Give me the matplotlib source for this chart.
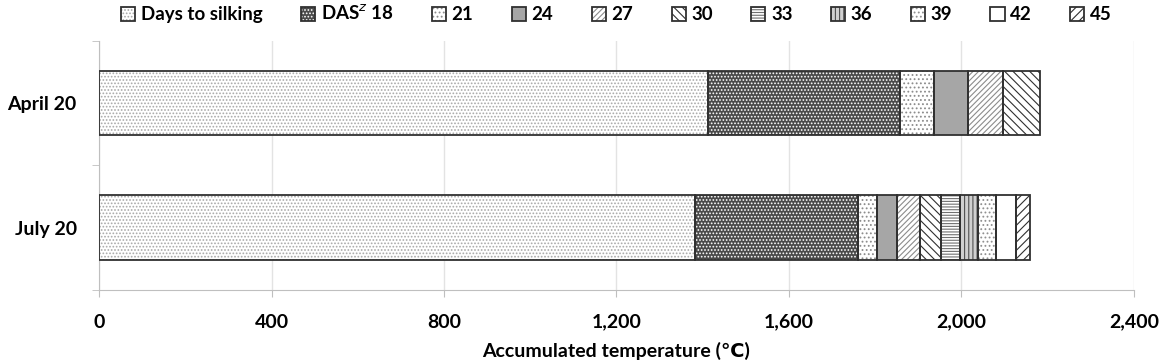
import numpy as np
import matplotlib
matplotlib.use("Agg")
import matplotlib.pyplot as plt

plt.rcParams['font.family'] = ['Lato', 'DejaVu Sans']
plt.rcParams['hatch.linewidth'] = 0.8

categories = ['April 20', 'July 20']
labels = ['Days to silking', 'DAS$^{z}$ 18', '21', '24', '27', '30',
          '33', '36', '39', '42', '45']

days_to_silking = [1413, 1382]
das18 = [444, 377]
das21 = [79, 46]
das24 = [80, 46]
das27 = [80, 53]
das30 = [85, 48]
das33 = [0, 44.5]
das36 = [0, 42.5]
das39 = [0, 41]
das42 = [0, 46]
das45 = [0, 34]
series = [days_to_silking, das18, das21, das24, das27, das30,
          das33, das36, das39, das42, das45]

# (face colour, hatch, hatch colour)
styles = [
    ('white', '.....', '#a8a8a8'),
    ('#4a4a4a', '.....', 'white'),
    ('white', '....', '#8c8c8c'),
    ('#a6a6a6', None, '#a6a6a6'),
    ('white', '//////', '#8c8c8c'),
    ('white', '\\\\\\\\', '#303030'),
    ('white', '------', '#707070'),
    ('#d0d0d0', '||||', '#505050'),
    ('white', '....', '#909090'),
    ('white', None, 'white'),
    ('white', '////', '#303030'),
]

fig = plt.figure(figsize=(11.61, 3.63), dpi=100)
ax = fig.add_axes([0.0853, 0.201, 0.8914, 0.687])

y = np.arange(len(categories))
left = np.zeros(len(categories))
handles = []
for vals, (fc, hatch, hc), lab in zip(series, styles, labels):
    vals = np.array(vals, dtype=float)
    m = vals > 0
    hb = ax.barh(y[m], vals[m], left=left[m], height=0.52, color=fc,
                 hatch=hatch, edgecolor=hc, linewidth=0, zorder=2)
    ob = ax.barh(y[m], vals[m], left=left[m], height=0.52, fill=False,
                 edgecolor='#303030', linewidth=1.3, zorder=3)
    handles.append((hb.patches[0], ob.patches[0]))
    left = left + vals

ax.set_xlim(0, 2400)
ax.set_ylim(1.5, -0.5)
ax.set_xticks(np.arange(0, 2401, 400))
ax.set_xticklabels([f'{v:,}' for v in range(0, 2401, 400)],
                   fontsize=14, fontweight='bold')
ax.set_yticks(y)
ax.set_yticklabels(categories, fontsize=14, fontweight='bold')
ax.set_yticks([-0.5, 0.5, 1.5], minor=True)
ax.tick_params(axis='y', which='major', length=0, pad=16)
ax.tick_params(axis='y', which='minor', length=5, color='#bfbfbf')
ax.tick_params(axis='x', length=5, color='#bfbfbf', pad=12)
ax.grid(axis='x', color='#e3e3e3', linewidth=1, zorder=0)
ax.set_axisbelow(True)
for s in ['top', 'right']:
    ax.spines[s].set_visible(False)
for s in ['left', 'bottom']:
    ax.spines[s].set_color('#bfbfbf')

ax.set_xlabel('Accumulated temperature (℃)', fontsize=14, fontweight='bold',
              labelpad=8)

fig.legend(handles, labels, loc='center', bbox_to_anchor=(0.531, 0.962),
           ncol=11, frameon=False, handlelength=0.75, handleheight=0.75,
           handletextpad=0.3, columnspacing=2.05,
           prop={'weight': 'bold', 'size': 13.5})

fig.savefig('out.png', dpi=100)
